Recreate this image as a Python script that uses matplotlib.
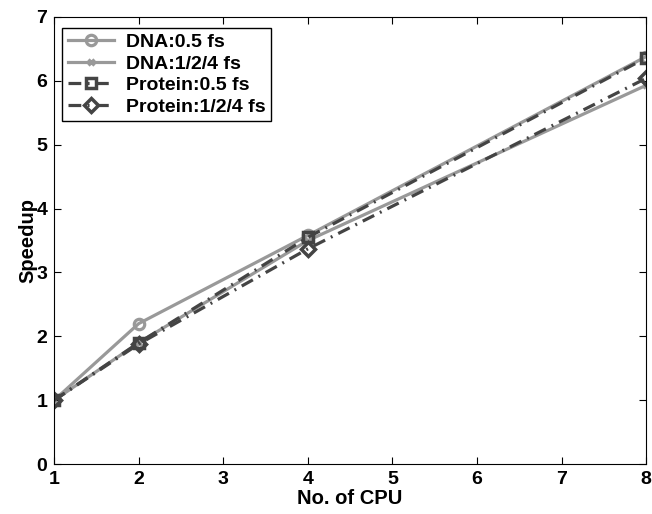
import matplotlib
matplotlib.use('Agg')
import matplotlib.pyplot as plt

plt.rcParams['font.family'] = ['Liberation Sans', 'DejaVu Sans']
plt.rcParams['font.weight'] = 'bold'
plt.rcParams['font.size'] = 14

cpus = [1, 2, 4, 8]
dna_05 = [1.0, 2.2, 3.58, 6.38]
dna_124 = [1.0, 1.9, 3.5, 5.93]
prot_05 = [1.0, 1.9, 3.55, 6.36]
prot_124 = [1.0, 1.88, 3.37, 6.04]

light = '#999999'
dark = '#444444'

fig = plt.figure(figsize=(6.52, 5.14), dpi=100)
ax = fig.add_axes([0.083, 0.097, 0.908, 0.870])

ax.plot(cpus, dna_05, color=light, lw=2.3, marker='o', ms=7.5, mfc='none', mew=2.3, label='DNA:0.5 fs')
ax.plot(cpus, dna_124, color=light, lw=2.3, marker='x', ms=5, mew=2.3, label='DNA:1/2/4 fs')
ax.plot(cpus, prot_05, color=dark, lw=2.3, ls=(0, (4, 2, 0.6, 2)), marker='s', ms=7.5, mfc='none', mew=2.5, label='Protein:0.5 fs')
ax.plot(cpus, prot_124, color=dark, lw=2.3, ls=(0, (4, 2, 0.6, 2)), marker='D', ms=7.5, mfc='none', mew=2.5, label='Protein:1/2/4 fs')

ax.set_xlim(1, 8)
ax.set_ylim(0, 7)
ax.set_xticks(range(1, 9))
ax.set_yticks(range(0, 8))
ax.tick_params(direction='in', length=5, top=True, right=True, labelsize=14, pad=5)
ax.set_xlabel('No. of CPU', fontweight='bold', fontsize=14.5, labelpad=1)
ax.set_ylabel('Speedup', fontweight='bold', fontsize=14.5, labelpad=-1)

leg = ax.legend(loc='upper left', bbox_to_anchor=(0.013, 0.976), fancybox=False,
                edgecolor='black', framealpha=1, borderaxespad=0, handlelength=2.4,
                labelspacing=0.2, borderpad=0.3, handletextpad=0.6, fontsize=14)
leg.get_frame().set_linewidth(1.0)

fig.savefig('out.png', dpi=100)
